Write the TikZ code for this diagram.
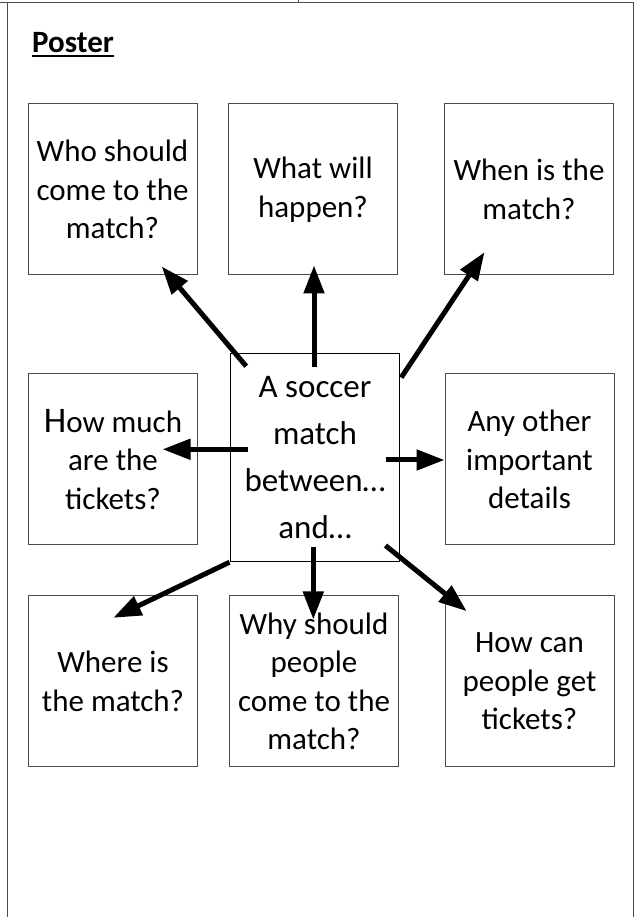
\documentclass[tikz,border=0pt]{standalone}
\usepackage{fontspec}
\setmainfont{Carlito}
\usetikzlibrary{arrows.meta,calc}
\begin{document}
\begin{tikzpicture}[x=1pt,y=1pt,>={Triangle[length=28pt,width=20pt]},
    qbox/.style={draw=black!70,line width=1pt,minimum width=169pt,minimum height=171pt,inner sep=0pt,align=center,font=\fontsize{31}{38.5}\selectfont},
    arr/.style={->,line width=5pt}]
            \useasboundingbox (0,0) rectangle (634,917);
            \draw[black!70,line width=1pt] (0,914) -- (634,914);
            \draw[black!70,line width=1pt] (7,914) -- (7,0);
            \draw[black!70,line width=1pt] (298,917) -- (298,914);
            \draw[black!70,line width=1pt] (633,914) -- (633,0);
            \node[anchor=base west,inner sep=0pt,font=\fontsize{31}{36}\selectfont\bfseries] (title) at (32,864) {Poster};
            \draw[line width=2pt] ([yshift=-3pt]title.base west) -- ([yshift=-3pt]title.base east);
            \node[qbox] (who) at (112.5,727.5) {Who should\\come to the\\match?};
            \node[qbox] (what) at (313,727.5) {What will\\happen?};
            \node[qbox] (when) at (529,727.5) {When is the\\match?};
            \node[qbox] (much) at (113,457.5) {{\fontsize{36}{36}\selectfont H}ow much\\are the\\tickets?};
            \node[qbox,draw=black,minimum width=169pt,minimum height=207.5pt,font=\fontsize{33}{47}\selectfont] (ctr) at (315,459.7) {A soccer\\match\\between…\\and…};
            \node[qbox] (other) at (529.5,457.5) {Any other\\important\\details};
            \node[qbox] (where) at (113,235.5) {Where is\\the match?};
            \node[qbox] (why) at (314,235.5) {Why should\\people\\come to the\\match?};
            \node[qbox] (how) at (529.5,235.5) {How can\\people get\\tickets?};
            \draw[arr] ($(ctr.north west)+(16.2,-13.2)$) -- ($(who.south east)+(-35.8,9)$);
            \draw[arr] ($(ctr.north)+(-1,-13.5)$) -- ($(what.south)+(1,10)$);
            \draw[arr] ($(ctr.north east)+(1.2,-24.5)$) -- ($(when.south west)+(40.5,23.3)$);
            \draw[arr] ($(ctr.west)+(17.8,8)$) -- ($(much.east)+(-35.5,10.2)$);
            \draw[arr] ($(ctr.east)+(-14.5,-2.7)$) -- ($(other.west)+(0,-0.5)$);
            \draw[arr] ($(ctr.south west)+(-0.5,-0.7)$) -- ($(where.north)+(0.3,-22.3)$);
            \draw[arr] ($(ctr.south)+(-1.7,14.3)$) -- ($(why.north)+(-0.7,-24)$);
            \draw[arr] ($(ctr.south east)+(-14.5,16)$) -- ($(how.north west)+(22.2,-15.7)$);
        \end{tikzpicture}
\end{document}
